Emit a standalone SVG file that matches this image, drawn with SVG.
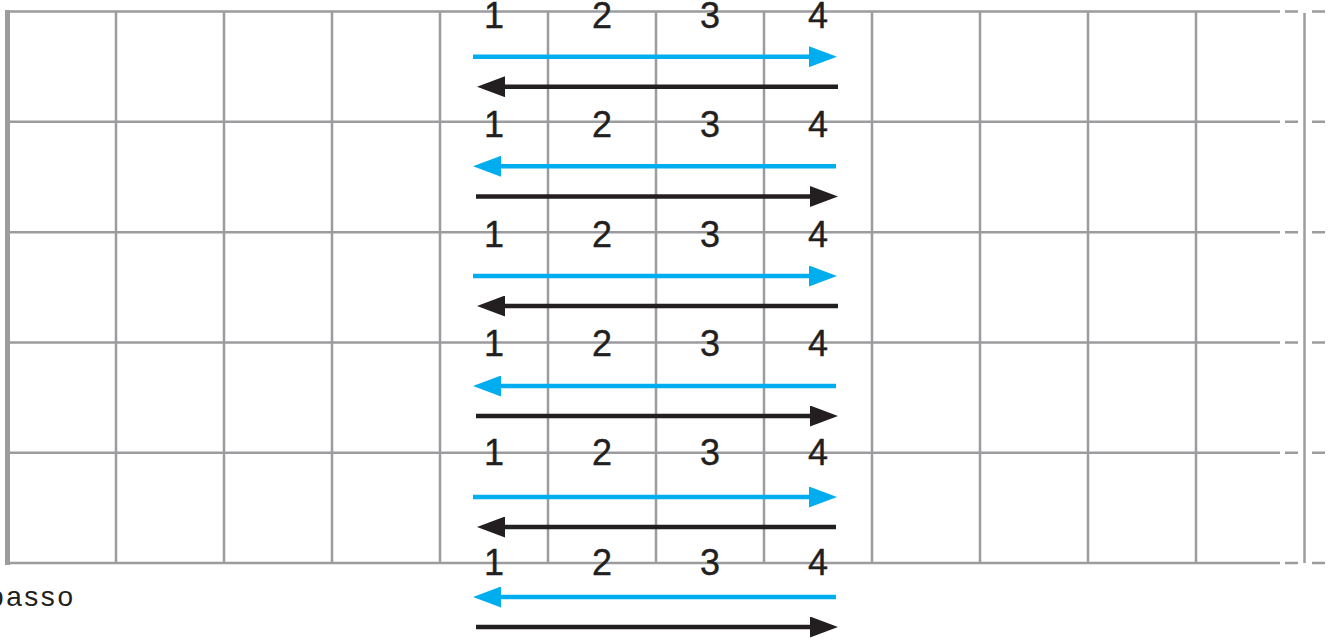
<svg xmlns="http://www.w3.org/2000/svg" width="1332" height="641" viewBox="0 0 1332 641">
<style>
.g{stroke:#9c9c9f;stroke-width:2.5;fill:none}
.b{stroke:#00aeef;stroke-width:4.5;fill:none}
.k{stroke:#231f20;stroke-width:4.5;fill:none}
.n{font-family:"Liberation Sans",Arial,sans-serif;font-size:36px;fill:#231f20;stroke:#231f20;stroke-width:0.4;text-anchor:middle}
.t{font-family:"Liberation Sans",Arial,sans-serif;font-size:28px;fill:#231f20}
</style>
<defs>
<marker id="hb" viewBox="0 0 28 21" refX="1" refY="10.5" markerWidth="28" markerHeight="21" markerUnits="userSpaceOnUse" orient="auto"><path d="M0,0 L28,10.5 L0,21 z" fill="#00aeef"/></marker>
<marker id="hk" viewBox="0 0 28 21" refX="1" refY="10.5" markerWidth="28" markerHeight="21" markerUnits="userSpaceOnUse" orient="auto"><path d="M0,0 L28,10.5 L0,21 z" fill="#231f20"/></marker>
</defs>
<g id="grid">
<path class="g" d="M5,11.5H1280M5,121.8H1280M5,232.2H1280M5,342.5H1280M5,452.7H1280M5,563H1280"/>
<path class="g" d="M1285,11.5H1298M1285,121.8H1298M1285,232.2H1298M1285,342.5H1298M1285,452.7H1298M1285,563H1298M1312,11.5H1325M1312,121.8H1325M1312,232.2H1325M1312,342.5H1325M1312,452.7H1325M1312,563H1325"/>
<path class="g" d="M116,11.5V563M224,11.5V563M332,11.5V563M440,11.5V563M548,11.5V563M656,11.5V563M764,11.5V563M872,11.5V563M980,11.5V563M1088,11.5V563M1196,11.5V563"/>
<path class="g" d="M1304.5,13V563"/>
<path d="M7.5,10V565" stroke="#9c9c9f" stroke-width="5" fill="none"/>
</g>
<g id="connectors">
<path class="b" d="M473,56.7H810" marker-end="url(#hb)"/>
<path class="k" d="M838,86.7H504" marker-end="url(#hk)"/>
<path class="b" d="M836,166.3H500" marker-end="url(#hb)"/>
<path class="k" d="M476,196.5H811" marker-end="url(#hk)"/>
<path class="b" d="M473,276H810" marker-end="url(#hb)"/>
<path class="k" d="M838,306H504" marker-end="url(#hk)"/>
<path class="b" d="M836,386H500" marker-end="url(#hb)"/>
<path class="k" d="M476,416H811" marker-end="url(#hk)"/>
<path class="b" d="M473,497H810" marker-end="url(#hb)"/>
<path class="k" d="M836,527H504" marker-end="url(#hk)"/>
<path class="b" d="M836,597H500" marker-end="url(#hb)"/>
<path class="k" d="M476,627H811" marker-end="url(#hk)"/>
</g>
<g id="labels">
<g id="row1"><text class="n" x="494" y="28">1</text><text class="n" x="602" y="28">2</text><text class="n" x="710" y="28">3</text><text class="n" x="818" y="28">4</text></g>
<g id="row2"><text class="n" x="494" y="137">1</text><text class="n" x="602" y="137">2</text><text class="n" x="710" y="137">3</text><text class="n" x="818" y="137">4</text></g>
<g id="row3"><text class="n" x="494" y="246.5">1</text><text class="n" x="602" y="246.5">2</text><text class="n" x="710" y="246.5">3</text><text class="n" x="818" y="246.5">4</text></g>
<g id="row4"><text class="n" x="494" y="356">1</text><text class="n" x="602" y="356">2</text><text class="n" x="710" y="356">3</text><text class="n" x="818" y="356">4</text></g>
<g id="row5"><text class="n" x="494" y="465">1</text><text class="n" x="602" y="465">2</text><text class="n" x="710" y="465">3</text><text class="n" x="818" y="465">4</text></g>
<g id="row6"><text class="n" x="494" y="575">1</text><text class="n" x="602" y="575">2</text><text class="n" x="710" y="575">3</text><text class="n" x="818" y="575">4</text></g>
<text id="basso" class="t" x="-12" y="606" textLength="85" lengthAdjust="spacing">basso</text>
</g>
</svg>
